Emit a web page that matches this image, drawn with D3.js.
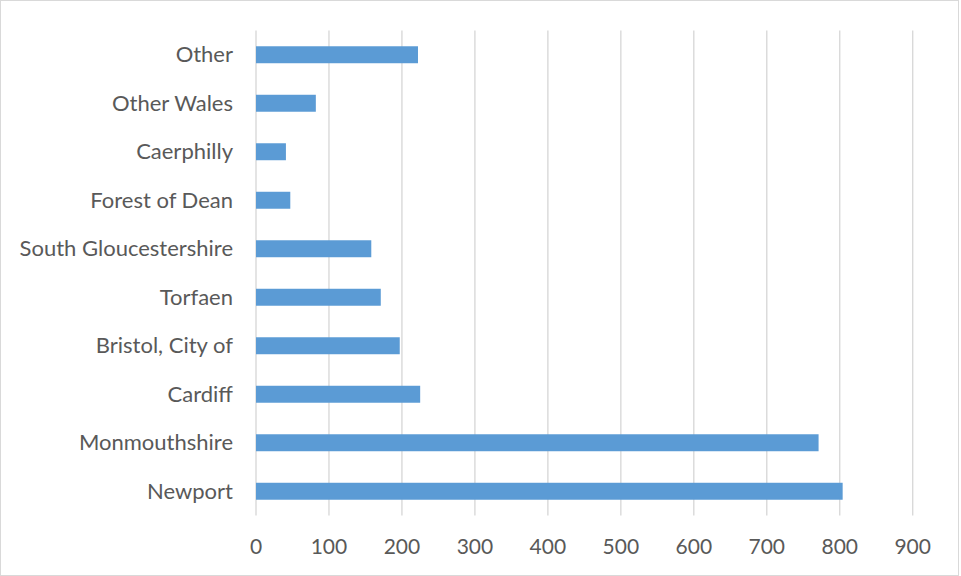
<!DOCTYPE html>
<html>
<head>
<meta charset="utf-8">
<script src="https://cdn.jsdelivr.net/npm/d3@7"></script>
<style>
  html, body { margin: 0; padding: 0; background: #ffffff; }
  svg { display: block; }
  text { font-family: Lato, "Open Sans", sans-serif; fill: #595959; }
</style>
</head>
<body>
<svg id="chart" width="961" height="576"></svg>
<script>
const categories = ["Other", "Other Wales", "Caerphilly", "Forest of Dean", "South Gloucestershire", "Torfaen", "Bristol, City of", "Cardiff", "Monmouthshire", "Newport"];
const values = [222, 82, 41, 47, 158, 171, 197, 225, 771, 804];
const tickValues = [0, 100, 200, 300, 400, 500, 600, 700, 800, 900];

const svg = d3.select("#chart");
const plot = { left: 256, right: 912.7, top: 30.5, bottom: 515.5 };

svg.append("rect")
  .attr("x", 0.5).attr("y", 0.5)
  .attr("width", 958).attr("height", 575)
  .attr("fill", "#ffffff").attr("stroke", "#d9d9d9").attr("stroke-width", 1);

const x = d3.scaleLinear().domain([0, 900]).range([plot.left, plot.right]);
const y = d3.scaleBand().domain(categories).range([plot.top, plot.bottom])
  .paddingInner(0.65).paddingOuter(0.325);

// gridlines
svg.append("g").selectAll("line").data(tickValues).join("line")
  .attr("x1", d => x(d)).attr("x2", d => x(d))
  .attr("y1", plot.top).attr("y2", plot.bottom)
  .attr("stroke", "#d9d9d9").attr("stroke-width", 1.4);

// bars
svg.append("g").selectAll("rect").data(categories).join("rect")
  .attr("x", x(0))
  .attr("y", d => y(d))
  .attr("width", (d, i) => x(values[i]) - x(0))
  .attr("height", y.bandwidth())
  .attr("fill", "#5b9bd5");

// category labels
svg.append("g").selectAll("text").data(categories).join("text")
  .attr("x", 233)
  .attr("y", d => y(d) + y.bandwidth() / 2)
  .attr("dy", "0.35em")
  .attr("text-anchor", "end")
  .attr("font-size", 22)
  .text(d => d);

// x tick labels
svg.append("g").selectAll("text").data(tickValues).join("text")
  .attr("x", d => x(d))
  .attr("y", 547)
  .attr("dy", "0.35em")
  .attr("text-anchor", "middle")
  .attr("font-size", 21)
  .text(d => d);
</script>
</body>
</html>
